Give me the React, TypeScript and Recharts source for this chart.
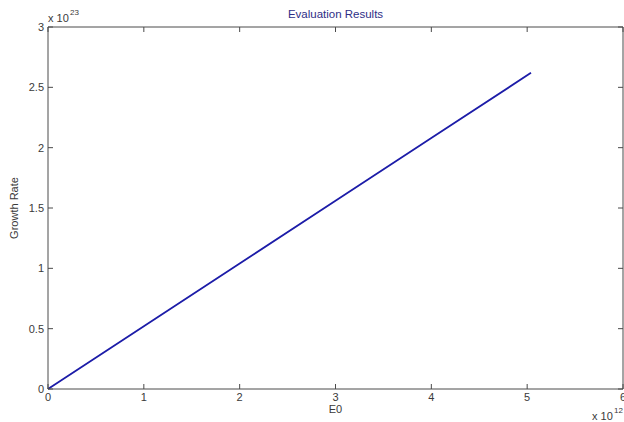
import { LineChart, Line, XAxis, YAxis, ReferenceLine } from "recharts";

// values shown in plot units: E0 is x 10^12, growth rate is x 10^23
const e0 = [0, 1, 2, 3, 4, 5.04];
const growthRate = [0, 0.52, 1.04, 1.56, 2.08, 2.62];
const xTicks = [0, 1, 2, 3, 4, 5, 6];
const yTicks = [0, 0.5, 1, 1.5, 2, 2.5, 3];
const xExponent = "12";
const yExponent = "23";

const data = e0.map((x, i) => ({ e0: x, rate: growthRate[i] }));

const W = 624;
const H = 422;
const TOP = 27;
const LEFT = 48;
const BOTTOM = 33;
const RIGHT = 1;
const PLOT_BOTTOM = H - BOTTOM;
const PLOT_RIGHT = W - RIGHT;

const AXIS = "#4a4a4a";
const TEXT = "#3a3a3a";
const FONT = "'Liberation Sans', Arial, sans-serif";

const XTick = (props: any) => {
  const { x, y, payload } = props;
  return (
    <g>
      <line x1={x} y1={y} x2={x} y2={y - 5} stroke={AXIS} />
      <line x1={x} y1={TOP} x2={x} y2={TOP + 5} stroke={AXIS} />
      <text x={x} y={y + 12} textAnchor="middle" fontSize={11} fill={TEXT} fontFamily={FONT}>
        {payload.value}
      </text>
    </g>
  );
};

const YTick = (props: any) => {
  const { x, y, payload } = props;
  return (
    <g>
      <line x1={x} y1={y} x2={x + 5} y2={y} stroke={AXIS} />
      <line x1={PLOT_RIGHT} y1={y} x2={PLOT_RIGHT - 5} y2={y} stroke={AXIS} />
      <text x={x - 4} y={y + 4} textAnchor="end" fontSize={11} fill={TEXT} fontFamily={FONT}>
        {payload.value}
      </text>
    </g>
  );
};

export default function App() {
  return (
    <div style={{ position: "absolute", left: 0, top: 0, width: W, height: H, background: "#fff" }}>
      <LineChart width={W} height={H} data={data} margin={{ top: TOP, right: RIGHT, bottom: 0, left: 0 }}>
        <XAxis
          dataKey="e0"
          type="number"
          domain={[0, 6]}
          ticks={xTicks}
          height={BOTTOM}
          tickSize={0}
          tickMargin={0}
          tickLine={false}
          axisLine={{ stroke: AXIS }}
          tick={<XTick />}
          interval={0}
          label={{
            content: () => (
              <g fontFamily={FONT} fill={TEXT}>
                <text x={(LEFT + PLOT_RIGHT) / 2} y={PLOT_BOTTOM + 24} textAnchor="middle" fontSize={11}>
                  E0
                </text>
                <text x={592} y={420} fontSize={11}>x 10</text>
                <text x={614} y={413} fontSize={8}>{xExponent}</text>
              </g>
            ),
          }}
        />
        <YAxis
          type="number"
          domain={[0, 3]}
          ticks={yTicks}
          width={LEFT}
          tickSize={0}
          tickMargin={0}
          tickLine={false}
          axisLine={{ stroke: AXIS }}
          tick={<YTick />}
          interval={0}
          label={{
            content: () => (
              <g fontFamily={FONT} fill={TEXT}>
                <text
                  x={14}
                  y={(TOP + PLOT_BOTTOM) / 2}
                  textAnchor="middle"
                  fontSize={11}
                  transform={`rotate(-90 14 ${(TOP + PLOT_BOTTOM) / 2})`}
                  dy={4}
                >
                  Growth Rate
                </text>
                <text x={48} y={22} fontSize={11}>x 10</text>
                <text x={70} y={15} fontSize={8}>{yExponent}</text>
                <text x={(LEFT + PLOT_RIGHT) / 2} y={18} textAnchor="middle" fontSize={11.5} fill="#2e2e86">
                  Evaluation Results
                </text>
              </g>
            ),
          }}
        />
        <ReferenceLine y={3} stroke={AXIS} />
        <ReferenceLine x={6} stroke={AXIS} />
        <Line
          dataKey="rate"
          type="linear"
          stroke="#1c1ca8"
          strokeWidth={1.8}
          dot={false}
          isAnimationActive={false}
        />
      </LineChart>
    </div>
  );
}
